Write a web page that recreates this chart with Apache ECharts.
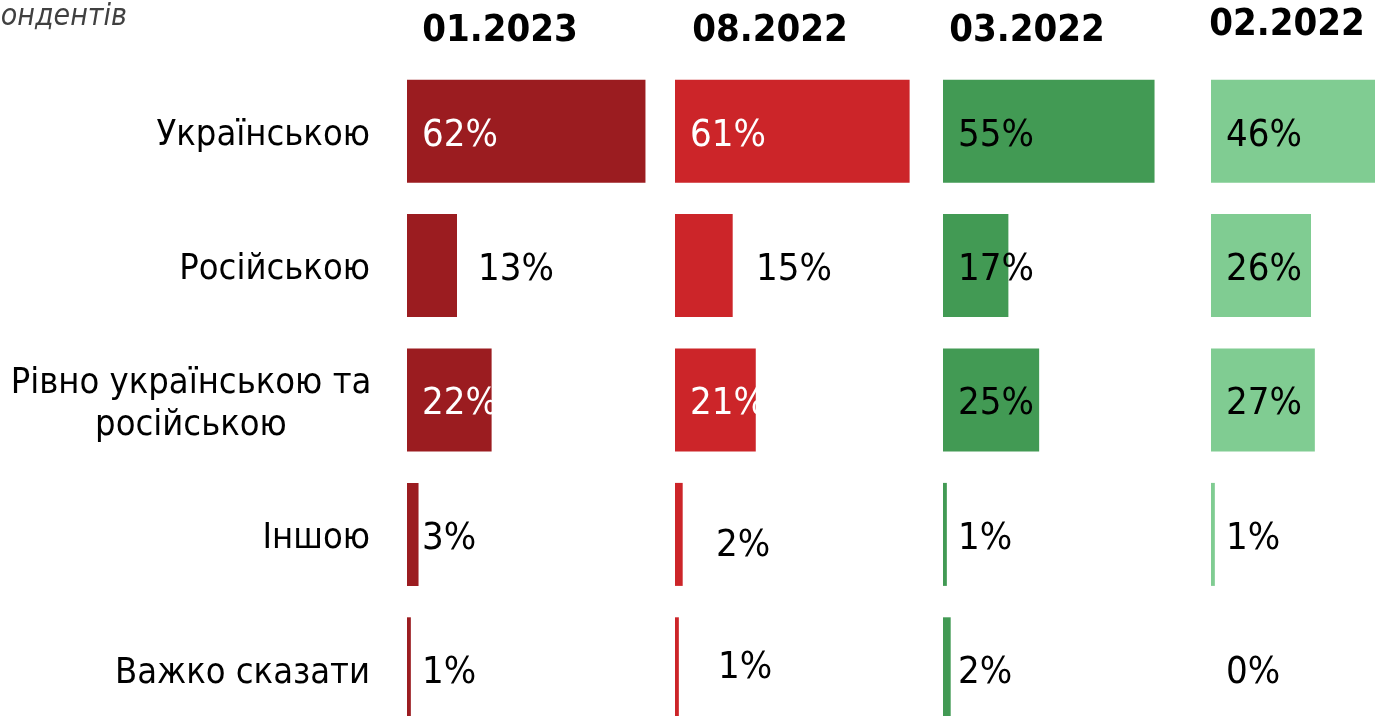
<!DOCTYPE html>
<html>
<head>
<meta charset="utf-8">
<script src="https://cdn.jsdelivr.net/npm/echarts@6/dist/echarts.min.js"></script>
<style>
  html, body { margin: 0; padding: 0; background: #fff; }
  #chart { width: 1375px; height: 716px; }
</style>
</head>
<body>
<div id="chart"></div>
<script>
// категорії (мова спілкування)
const categories = ['Українською', 'Російською', 'Рівно українською та\nросійською', 'Іншою', 'Важко сказати'];
// хвилі опитування
const periods = ['01.2023', '08.2022', '03.2022', '02.2022'];
// значення, % респондентів
const jan2023 = [62, 13, 22, 3, 1];
const aug2022 = [61, 15, 21, 2, 1];
const mar2022 = [55, 17, 25, 1, 2];
const feb2022 = [46, 26, 27, 1, 0];

const values = [jan2023, aug2022, mar2022, feb2022];
const colors = ['#9B1C20', '#CC2529', '#429A54', '#80CC92'];
const FONT = '"DejaVu Sans Condensed", "DejaVu Sans", sans-serif';

// розмітка панелей
const panelLeft = [407, 675, 943, 1211];
const titleX = [500, 770, 1027, 1287];
const titleY = [31, 31, 31, 25];

// підписи, що стоять не на стандартному місці: [панель, рядок] -> [x, dy]
const labelPos = {
  '0-1': [71, 0],
  '1-1': [81, 0],
  '1-3': [41, 7],
  '1-4': [43, -5]
};
// білі підписи
const whiteLabels = ['0-0', '0-2', '1-0', '1-2'];

const chart = echarts.init(document.getElementById('chart'));

const grids = [];
const xAxes = [];
const yAxes = [];
const series = [];

values.forEach((vals, p) => {
  grids.push({
    left: panelLeft[p], top: 64, width: 250, height: 672,
    outerBoundsMode: 'none', containLabel: false
  });
  xAxes.push({ type: 'value', gridIndex: p, min: 0, max: 65, show: false });
  yAxes.push({
    type: 'category',
    gridIndex: p,
    data: categories,
    inverse: true,
    axisLine: { show: false },
    axisTick: { show: false },
    axisLabel: p === 0 ? {
      show: true,
      margin: 37,
      fontSize: 36,
      fontFamily: FONT,
      color: '#000',
      verticalAlign: 'middle',
      padding: [9, 0, 0, 0],
      formatter: v => v.indexOf('\n') >= 0
        ? v.split('\n').map(s => '{c|' + s + '}').join('\n')
        : v,
      rich: {
        c: { width: 358, align: 'center', fontSize: 36, lineHeight: 42, fontFamily: FONT, color: '#000' }
      }
    } : { show: false }
  });
  series.push({
    type: 'bar',
    xAxisIndex: p,
    yAxisIndex: p,
    barWidth: 103,
    clip: false,
    itemStyle: { color: colors[p] },
    data: vals.map((v, i) => {
      const key = p + '-' + i;
      const pos = labelPos[key] || [15, 0];
      return {
        value: v,
        label: {
          show: true,
          position: [pos[0], 56 + pos[1]],
          verticalAlign: 'middle',
          align: 'left',
          formatter: '{c}%',
          fontSize: 38,
          fontFamily: FONT,
          color: whiteLabels.indexOf(key) >= 0 ? '#fff' : '#000'
        }
      };
    })
  });
});

const graphics = periods.map((t, p) => ({
  type: 'text',
  x: titleX[p],
  y: titleY[p],
  style: {
    text: t,
    fontSize: 38,
    fontWeight: 'bold',
    fontFamily: FONT,
    fill: '#000',
    textAlign: 'center',
    textVerticalAlign: 'middle'
  }
}));
graphics.push({
  type: 'text',
  x: 127,
  y: 17,
  style: {
    text: '% респондентів',
    fontSize: 30,
    fontStyle: 'italic',
    fontFamily: FONT,
    fill: '#404040',
    textAlign: 'right',
    textVerticalAlign: 'middle'
  }
});

chart.setOption({
  animation: false,
  grid: grids,
  xAxis: xAxes,
  yAxis: yAxes,
  series: series,
  graphic: graphics
});
</script>
</body>
</html>
